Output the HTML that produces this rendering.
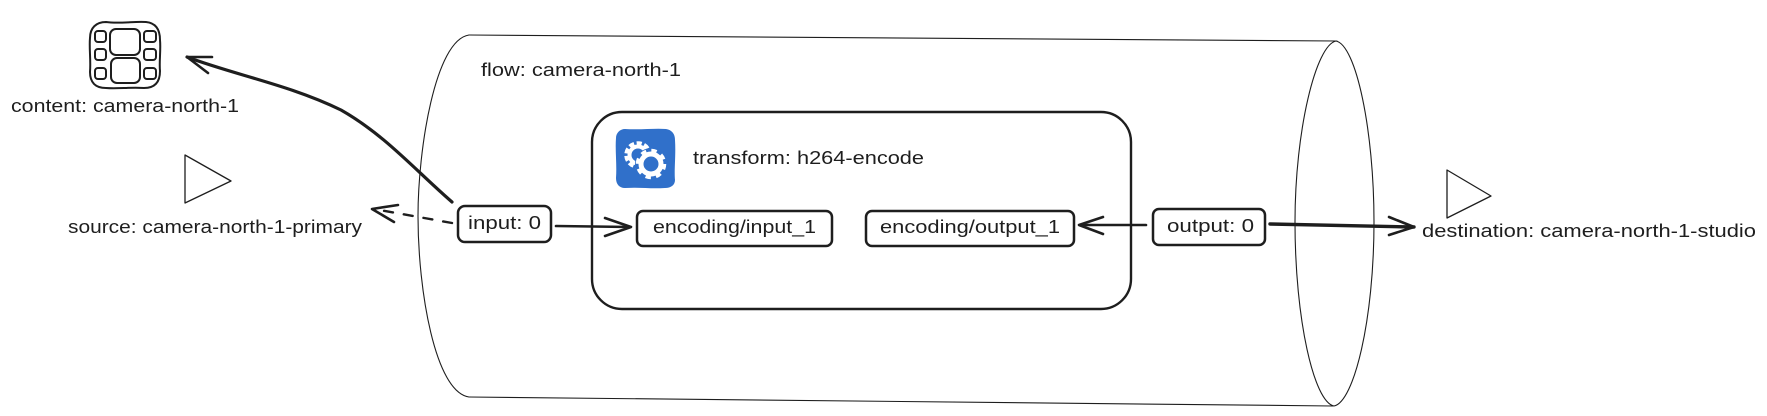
<!DOCTYPE html>
<html>
<head>
<meta charset="utf-8">
<style>
html,body{margin:0;padding:0;background:#fff;width:1767px;height:416px;overflow:hidden}
svg{display:block}
text{font-family:"Liberation Sans",sans-serif;font-size:18px;fill:#1e1e1e}
.s{fill:none;stroke:#1e1e1e;stroke-linecap:round;stroke-linejoin:round}
</style>
</head>
<body>
<svg width="1767" height="416" viewBox="0 0 1767 416" xmlns="http://www.w3.org/2000/svg">
<rect width="1767" height="416" fill="#fff"/>

<!-- cylinder -->
<path class="s" stroke-width="1.1" d="M469 35 L1337 41"/>
<path class="s" stroke-width="1.1" d="M469 397 L1333 406"/>
<path class="s" stroke-width="1.1" d="M469 35 C435 40 418 150 418 216 C418 290 435 392 469 397"/>
<path class="s" stroke-width="1.1" d="M1336 41 C1316 45 1295 130 1295 222 C1295 320 1314 402 1334 406 C1354 402 1374 320 1374 222 C1374 130 1356 45 1336 41 Z"/>
<text x="481" y="76" textLength="200" lengthAdjust="spacingAndGlyphs">flow: camera-north-1</text>

<!-- film icon -->
<path class="s" stroke-width="2" d="M106 22 C120 24 135 21 146 22 C156 23 160 30 160 40 C161 50 159 62 160 71 C160 82 155 88 144 88 C130 87 118 89 106 88 C95 88 90 82 90 72 C91 60 89 48 90 38 C90 28 96 22 106 22 Z"/>
<rect class="s" stroke-width="2" x="95" y="31" width="11" height="11" rx="3"/>
<rect class="s" stroke-width="2" x="95" y="49" width="11" height="11" rx="3"/>
<rect class="s" stroke-width="2" x="95" y="68" width="11" height="11" rx="3"/>
<rect class="s" stroke-width="2" x="144" y="31" width="12" height="11" rx="3"/>
<rect class="s" stroke-width="2" x="144" y="49" width="12" height="11" rx="3"/>
<rect class="s" stroke-width="2" x="144" y="68" width="12" height="11" rx="3"/>
<rect class="s" stroke-width="2" x="110" y="29" width="30" height="26" rx="6"/>
<rect class="s" stroke-width="2" x="111" y="58" width="29" height="25" rx="6"/>
<text x="11" y="112" textLength="228" lengthAdjust="spacingAndGlyphs">content: camera-north-1</text>

<!-- source triangle -->
<path class="s" stroke-width="1.3" d="M185 155 L231 181 L185 203 Z"/>
<text x="68" y="233" textLength="294" lengthAdjust="spacingAndGlyphs">source: camera-north-1-primary</text>

<!-- arrow to content -->
<path class="s" stroke-width="3.2" d="M452 202 C415 170 385 135 341 110 C290 85 235 75 187 57"/>
<path class="s" stroke-width="2.6" d="M212 57 L187 57 L208 73"/>

<!-- dashed arrow to source -->
<path class="s" stroke-width="2.4" stroke-dasharray="9 11" d="M452 223 L374 209"/>
<path class="s" stroke-width="2.6" d="M398 205 L372 209 L394 222"/>

<!-- input port -->
<rect class="s" stroke-width="2.5" x="458" y="206" width="93" height="36" rx="7" style="fill:#fff"/>
<text x="468" y="229" textLength="73" lengthAdjust="spacingAndGlyphs">input: 0</text>

<!-- transform -->
<rect class="s" stroke-width="2.4" x="592" y="112" width="539" height="197" rx="30"/>
<path d="M625 129 C640 130 655 128 666 129 C672 130 675 134 675 140 C676 155 674 170 675 180 C675 185 671 188 665 188 C650 189 640 187 625 188 C619 188 616 184 616 178 C617 165 615 150 616 138 C616 133 620 129 625 129 Z" fill="#3070ca"/>
<!-- gears -->
<g fill="none" stroke="#fff">
<circle cx="638" cy="155" r="11.5" stroke-width="4.5" stroke-dasharray="5 2.5"/>
<circle cx="638" cy="155" r="8.5" stroke-width="4"/>
</g>
<circle cx="651" cy="164" r="16" fill="#3070ca"/>
<g fill="none" stroke="#fff">
<circle cx="651" cy="164" r="13" stroke-width="4.5" stroke-dasharray="5.2 5"/>
<circle cx="651" cy="164" r="10" stroke-width="5"/>
</g>
<text x="693" y="164" textLength="231" lengthAdjust="spacingAndGlyphs">transform: h264-encode</text>

<rect class="s" stroke-width="2.5" x="637" y="211" width="195" height="35" rx="6"/>
<text x="653" y="233" textLength="163" lengthAdjust="spacingAndGlyphs">encoding/input_1</text>
<rect class="s" stroke-width="2.5" x="866" y="211" width="208" height="35" rx="6"/>
<text x="880" y="233" textLength="180" lengthAdjust="spacingAndGlyphs">encoding/output_1</text>

<!-- input arrow -->
<path class="s" stroke-width="2.6" d="M556 226 L630 227"/>
<path class="s" stroke-width="2.6" d="M605 218 L631 227 L605 236"/>

<!-- output arrow in -->
<path class="s" stroke-width="2.6" d="M1146 225 L1080 225"/>
<path class="s" stroke-width="2.6" d="M1103 217 L1079 225 L1103 234"/>

<!-- output port -->
<rect class="s" stroke-width="2.5" x="1153" y="209" width="112" height="36" rx="6"/>
<text x="1167" y="232" textLength="87" lengthAdjust="spacingAndGlyphs">output: 0</text>

<!-- output arrow out -->
<path class="s" stroke-width="3.4" d="M1270 224 L1414 227"/>
<path class="s" stroke-width="2.6" d="M1389 217 L1414 227 L1389 235"/>

<!-- destination -->
<path class="s" stroke-width="1.3" d="M1447 170 L1491 196 L1447 218 Z"/>
<text x="1422" y="237" textLength="334" lengthAdjust="spacingAndGlyphs">destination: camera-north-1-studio</text>
</svg>
</body>
</html>
